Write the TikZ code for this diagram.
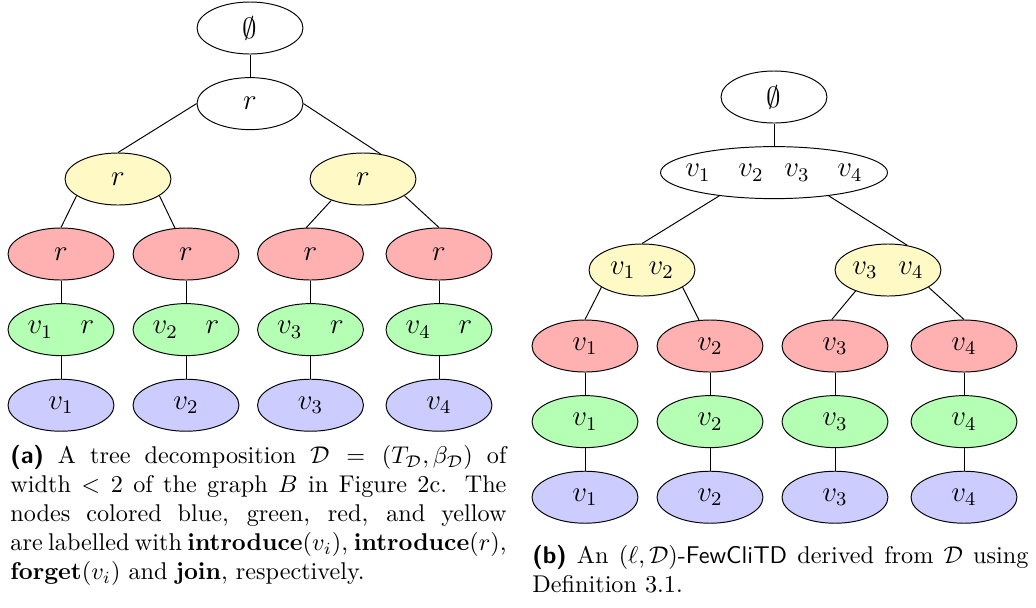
\documentclass[tikz,border=0pt]{standalone}
\usepackage{tikz}
\usetikzlibrary{shapes,positioning}
\usepackage{mathtools}
\definecolor{joincol}{RGB}{255,249,198}
\definecolor{forgetcol}{RGB}{255,176,176}
\definecolor{intrcol}{RGB}{180,255,180}
\definecolor{intvcol}{RGB}{204,204,255}

\begin{document}
\begin{tikzpicture}[x=0.4133pt, y=-0.4133pt, node distance = 31.25pt,
    bag/.style={ellipse, draw, minimum width=43.8pt, minimum height=21.5pt, inner sep=0pt, text=black, font=\fontsize{11.5}{13}\selectfont},
    joinbag/.style={bag, fill=joincol},
    forgetbag/.style={bag, fill=forgetcol},
    intrbag/.style={bag, fill=intrcol},
    intvbag/.style={bag, fill=intvcol},
    caption/.style={anchor=north west, inner sep=0pt, text width=205pt, align=justify, font=\fontsize{10}{12}\selectfont}]
\useasboundingbox (0,0) rectangle (1036,607);
% (a) tree decomposition
			\node [bag] (topa) at (250,28) {$\emptyset$};
			\node [bag, below of=topa] (roota) {$r$};
			\path [draw] (topa) -- (roota);
			\node [joinbag] (joina1) at (118,179) {$r$};
			\node [joinbag] (joina2) at (363,179) {$r$};
			\path [draw] (roota.west) -- (joina1.north);
			\path [draw] (roota.east) -- (joina2.55);
			\node [forgetbag] (forgeta1) at (61,254) {$r$};
			\node [forgetbag] (forgeta2) at (186,254) {$r$};
			\node [forgetbag] (forgeta3) at (310.5,254) {$r$};
			\node [forgetbag] (forgeta4) at (439,254) {$r$};
			\path [draw] (joina1.202) -- (forgeta1.north);
			\path [draw] (joina1.338) -- (forgeta2.113);
			\path [draw] (joina2.214) -- (forgeta3.99);
			\path [draw] (joina2.338) -- (forgeta4.north);
			\node [intrbag, below of=forgeta1] (intra1) {$v_1\quad r$};
			\node [intrbag, below of=forgeta2] (intra2) {$v_2\quad r$};
			\node [intrbag, below of=forgeta3] (intra3) {$v_3\quad r$};
			\node [intrbag, below of=forgeta4] (intra4) {$v_4\quad r$};
			\node [intvbag, below of=intra1] (intva1) {$v_1$};
			\node [intvbag, below of=intra2] (intva2) {$v_2$};
			\node [intvbag, below of=intra3] (intva3) {$v_3$};
			\node [intvbag, below of=intra4] (intva4) {$v_4$};
			\path [draw] (forgeta1) -- (intra1) -- (intva1);
			\path [draw] (forgeta2) -- (intra2) -- (intva2);
			\path [draw] (forgeta3) -- (intra3) -- (intva3);
			\path [draw] (forgeta4) -- (intra4) -- (intva4);
			\node [caption] (capa) at (10,445) {\textsf{\textbf{(a)}} A tree decomposition $\mathcal{D}=(T_{\mathcal{D}},\beta_{\mathcal{D}})$ of width $<2$ of the graph $B$ in Figure 2c. The nodes colored blue, green, red, and yellow\linebreak\makebox[\linewidth][s]{are labelled with $\mathbf{introduce}(v_i)$, $\mathbf{introduce}(r)$,}\linebreak $\mathbf{forget}(v_i)$ and $\mathbf{join}$, respectively.};
% (b) derived decomposition
			\node [bag] (topb) at (774,97) {$\emptyset$};
			\node [bag, minimum width=93.8pt, below of=topb] (rootb) {\makebox[0pt]{$v_1\quad v_2\hspace{8.5pt}v_3\quad v_4$}};
			\path [draw] (topb) -- (rootb);
			\node [joinbag] (joinb1) at (642,270) {$v_1\hspace{5.5pt}v_2$};
			\node [joinbag] (joinb2) at (888,270) {$v_3\hspace{8.5pt}v_4$};
			\path [draw] (rootb.203) -- (joinb1.north);
			\path [draw] (rootb.337) -- (joinb2.52);
			\node [forgetbag] (forgetb1) at (585,346) {$v_1$};
			\node [forgetbag] (forgetb2) at (710,346) {$v_2$};
			\node [forgetbag] (forgetb3) at (835,346) {$v_3$};
			\node [forgetbag] (forgetb4) at (964,346) {$v_4$};
			\path [draw] (joinb1.203) -- (forgetb1.north);
			\path [draw] (joinb1.337) -- (forgetb2.113);
			\path [draw] (joinb2.213) -- (forgetb3.97);
			\path [draw] (joinb2.337) -- (forgetb4.north);
			\node [intrbag, below of=forgetb1] (intrb1) {$v_1$};
			\node [intrbag, below of=forgetb2] (intrb2) {$v_2$};
			\node [intrbag, below of=forgetb3] (intrb3) {$v_3$};
			\node [intrbag, below of=forgetb4] (intrb4) {$v_4$};
			\node [intvbag, below of=intrb1] (intvb1) {$v_1$};
			\node [intvbag, below of=intrb2] (intvb2) {$v_2$};
			\node [intvbag, below of=intrb3] (intvb3) {$v_3$};
			\node [intvbag, below of=intrb4] (intvb4) {$v_4$};
			\path [draw] (forgetb1) -- (intrb1) -- (intvb1);
			\path [draw] (forgetb2) -- (intrb2) -- (intvb2);
			\path [draw] (forgetb3) -- (intrb3) -- (intvb3);
			\path [draw] (forgetb4) -- (intrb4) -- (intvb4);
			\node [caption] (capb) at (532,545) {\textsf{\textbf{(b)}} An $(\ell,\mathcal{D})$-\textsf{FewCliTD} derived from $\mathcal{D}$ using Definition 3.1.};
		\end{tikzpicture}
\end{document}
